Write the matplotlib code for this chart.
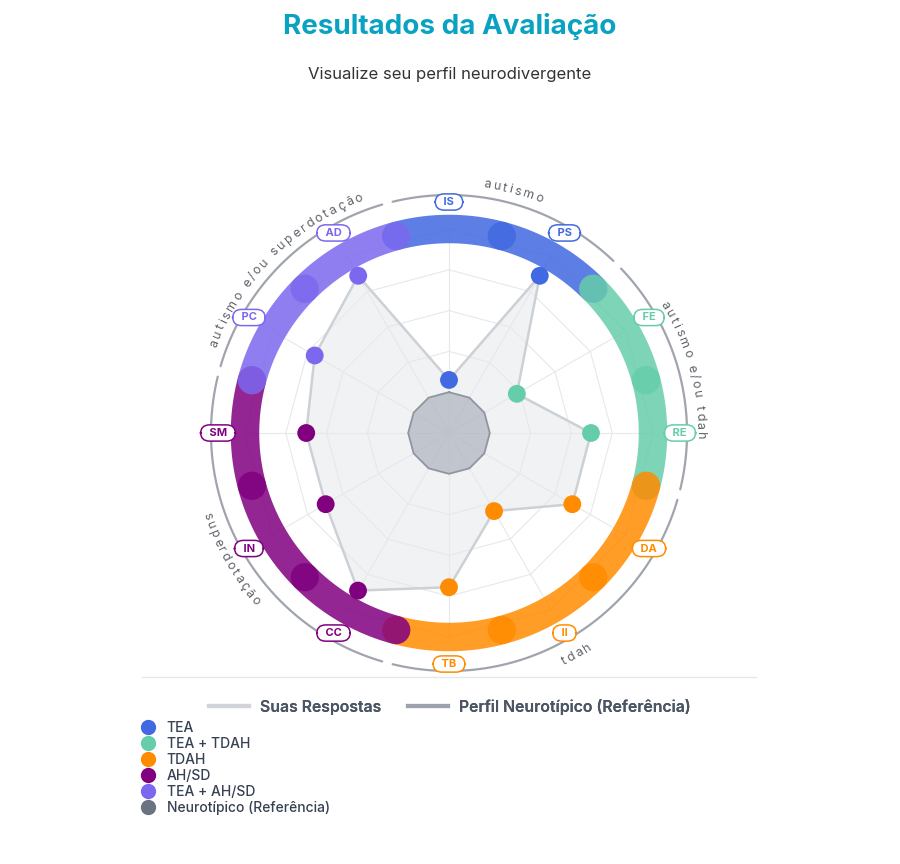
import numpy as np
import matplotlib

matplotlib.use("Agg")
import matplotlib.pyplot as plt
from matplotlib.font_manager import FontProperties
from matplotlib.lines import Line2D

plt.rcParams["font.family"] = ["Inter", "DejaVu Sans"]

# radar axes, clockwise from the top
axis_codes = ["IS", "PS", "FE", "RE", "DA", "II", "TB", "CC", "IN", "SM", "PC", "AD"]
axis_category = [
    "TEA", "TEA", "TEA + TDAH", "TEA + TDAH", "TDAH", "TDAH", "TDAH",
    "AH/SD", "AH/SD", "AH/SD", "TEA + AH/SD", "TEA + AH/SD",
]
scores = [1.3, 4.45, 1.92, 3.48, 3.49, 2.21, 3.78, 4.46, 3.49, 3.5, 3.8, 4.45]
reference_scores = [1.0] * 12
grid_levels = [1, 2, 3, 4, 5]
ring_level = 5

category_names = ["TEA", "TEA + TDAH", "TDAH", "AH/SD", "TEA + AH/SD", "Neurotípico (Referência)"]
category_colors = ["#4169E1", "#66CDAA", "#FF8C00", "#800080", "#7B68EE", "#6B7280"]

group_names = ["autismo", "autismo e/ou tdah", "tdah", "superdotação", "autismo e/ou superdotação"]
group_axes = [["IS", "PS"], ["FE", "RE"], ["DA", "II", "TB"], ["CC", "IN", "SM"], ["PC", "AD"]]

W, H = 900, 864
CX, CY = 449, 433
PX_PER_LEVEL = 40.8
R_MAX = 6.5

color_of = dict(zip(category_names, category_colors))
axis_colors = [color_of[c] for c in axis_category]

fig = plt.figure(figsize=(W / 100, H / 100), dpi=100)
fig.patch.set_facecolor("white")
half = R_MAX * PX_PER_LEVEL
ax = fig.add_axes(
    [(CX - half) / W, (H - CY - half) / H, 2 * half / W, 2 * half / H],
    projection="polar",
)
ax.set_theta_zero_location("N")
ax.set_theta_direction(-1)
ax.set_ylim(0, R_MAX)
ax.axis("off")

theta = np.deg2rad(np.arange(len(axis_codes)) * 360 / len(axis_codes))
closed_theta = np.append(theta, theta[0])

# grid
for lvl in grid_levels:
    ax.plot(closed_theta, [lvl] * len(closed_theta), color="#e6e8eb", lw=0.8, zorder=2)
for t in theta:
    ax.plot([t, t], [0, ring_level], color="#e6e8eb", lw=0.8, zorder=2)

# answers polygon
closed_scores = np.append(scores, scores[0])
ax.fill(closed_theta, closed_scores, color="#eceef1", alpha=0.75, zorder=1)
ax.plot(closed_theta, closed_scores, color="#cdd1d6", lw=1.8, zorder=3)

# neurotypical reference
closed_ref = np.append(reference_scores, reference_scores[0])
ax.fill(closed_theta, closed_ref, facecolor="#9ca3af", alpha=0.55, zorder=4)
ax.plot(closed_theta, closed_ref, color="#8f96a0", lw=1.3, zorder=4)

# coloured ring, one segment per axis
step = np.pi / len(axis_codes)
for t, c in zip(theta, axis_colors):
    seg = np.linspace(t - step, t + step, 40)
    ax.plot(seg, [ring_level] * len(seg), color=c, lw=20.5, alpha=0.85,
            solid_capstyle="round", zorder=5)

ax.scatter(theta, scores, s=165, c=axis_colors, edgecolors="none", zorder=6)

# group arcs and curved titles
renderer = fig.canvas.get_renderer()
arc_prop = FontProperties(family=["Inter", "DejaVu Sans"], size=9)
letter_gap = 2.2


def advance(ch):
    base = renderer.get_text_width_height_descent("xx", arc_prop, ismath=False)[0]
    return renderer.get_text_width_height_descent("x" + ch + "x", arc_prop, ismath=False)[0] - base


def curved_label(text, center_deg, r_px, clockwise):
    advs = [advance(ch) + letter_gap for ch in text]
    span = np.degrees((sum(advs) - letter_gap) / r_px)
    pos = 0.0
    for ch, a in zip(text, advs):
        off = np.degrees((pos + (a - letter_gap) / 2) / r_px) - span / 2
        ang = center_deg + off if clockwise else center_deg - off
        rot = -ang if clockwise else 180 - ang
        ax.text(np.deg2rad(ang), r_px / PX_PER_LEVEL, ch, rotation=rot,
                rotation_mode="anchor", ha="center", va="baseline",
                fontproperties=arc_prop, color="#5f636a", clip_on=False, zorder=9)
        pos += a


code_deg = dict(zip(axis_codes, np.arange(len(axis_codes)) * 30.0))
for name, members in zip(group_names, group_axes):
    start = code_deg[members[0]] - 15
    end = code_deg[members[-1]] + 15
    arc = np.deg2rad(np.linspace(start + 1.3, end - 1.3, 80))
    ax.plot(arc, [238 / PX_PER_LEVEL] * len(arc), color="#a0a5ad", lw=1.6,
            solid_capstyle="round", zorder=7)
    mid = (start + end) / 2
    bottom = 100 < mid % 360 < 260
    curved_label(name, mid, 259 if bottom else 248, not bottom)

# axis pills
for t, code, c in zip(theta, axis_codes, axis_colors):
    ax.text(t, 231 / PX_PER_LEVEL, "\u2002" + code + "\u2002", ha="center", va="center",
            fontsize=8, fontweight="bold", color=c, clip_on=False, zorder=8,
            bbox=dict(boxstyle="round,pad=0.28,rounding_size=0.8", fc="white", ec=c, lw=1.1))

# titles
fig.text(0.5, 1 - 27 / H, "Resultados da Avaliação", ha="center", va="center",
         fontsize=20, fontweight="bold", color="#0aa2c2")
fig.text(0.5, 1 - 75 / H, "Visualize seu perfil neurodivergente", ha="center", va="center",
         fontsize=12, color="#333333")

fig.add_artist(Line2D([142 / W, 756 / W], [1 - 677 / H] * 2, color="#e5e7eb", lw=1))

# legends
line_handles = [Line2D([], [], color="#d1d5db", lw=3), Line2D([], [], color="#9ca3af", lw=3)]
leg1 = fig.legend(line_handles, ["Suas Respostas", "Perfil Neurotípico (Referência)"],
                  loc="center", bbox_to_anchor=(0.5, 1 - 707 / H), ncol=2, frameon=False,
                  prop=dict(size=11.4, weight="semibold"), labelcolor="#4b5563",
                  handlelength=2.5, handletextpad=0.7, columnspacing=1.7)
dot_handles = [Line2D([], [], ls="", marker="o", ms=10, color=c) for c in category_colors]
fig.legend(dot_handles, category_names, loc="upper left", bbox_to_anchor=(141 / W, 1 - 721 / H),
           frameon=False, prop=dict(size=10, weight="medium"), labelcolor="#374151",
           handlelength=1.0, handletextpad=0.85, labelspacing=0.14, borderpad=0, borderaxespad=0)
fig.add_artist(leg1)

fig.savefig("out.png", dpi=100, facecolor="white")
